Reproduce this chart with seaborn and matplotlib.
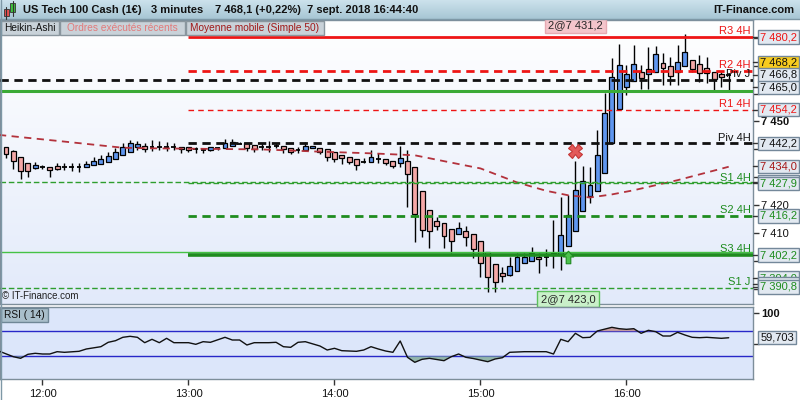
import numpy as np
import matplotlib
matplotlib.use("Agg")
import matplotlib.pyplot as plt
import matplotlib.transforms as mtransforms
from matplotlib.colors import LinearSegmentedColormap
from matplotlib.patches import Rectangle
import seaborn as sns

# Heikin-Ashi candles, 3 minutes each, the first one at 11:45
first_candle = "11:45"
candle_minutes = 3
ha_open = [7440.7, 7439.5, 7437.4, 7435.0, 7433.4, 7433.8, 7433.6, 7433.9, 7433.8, 7433.8,
           7433.8, 7433.6, 7434.3, 7434.9, 7435.6, 7436.6, 7437.9, 7439.2, 7440.7, 7441.1,
           7441.0, 7440.8, 7441.0, 7441.0, 7441.0, 7440.7, 7440.0, 7439.8, 7439.9, 7440.6,
           7440.4, 7441.1, 7442.0, 7442.2, 7441.6, 7441.0, 7441.0, 7441.3, 7441.2, 7440.6,
           7439.8, 7439.8, 7440.4, 7440.6, 7440.0, 7439.0, 7438.0, 7437.2, 7436.4, 7435.6,
           7435.6, 7436.6, 7436.6, 7435.7, 7435.0, 7435.9, 7433.6, 7425.1, 7418.3, 7414.4,
           7413.6, 7411.4, 7409.6, 7410.8, 7409.6, 7407.2, 7403.2, 7399.0, 7395.7, 7395.1,
           7396.6, 7399.2, 7400.2, 7401.6, 7401.6, 7402.2, 7402.2, 7405.5, 7410.9, 7418.1,
           7423.4, 7425.3, 7431.4, 7442.2, 7454.3, 7462.2, 7464.6, 7467.8, 7466.9, 7467.8,
           7470.8, 7469.9, 7467.8, 7469.8, 7472.0, 7470.4, 7469.0, 7467.8, 7466.9, 7466.6]
ha_high = [7441.0, 7439.8, 7437.4, 7435.0, 7435.6, 7434.4, 7433.8, 7435.0, 7435.0, 7435.0,
           7435.2, 7435.8, 7437.4, 7437.9, 7439.2, 7440.4, 7442.2, 7443.4, 7443.1, 7442.4,
           7443.2, 7442.9, 7442.5, 7442.2, 7441.0, 7440.7, 7440.7, 7440.4, 7441.0, 7441.0,
           7443.6, 7443.7, 7442.5, 7442.2, 7441.6, 7442.4, 7442.9, 7442.4, 7441.2, 7440.6,
           7440.7, 7442.5, 7441.2, 7440.6, 7440.0, 7439.0, 7438.0, 7437.2, 7436.4, 7436.8,
           7439.8, 7438.6, 7436.6, 7435.7, 7441.2, 7439.8, 7433.6, 7425.1, 7418.3, 7415.9,
           7413.6, 7411.4, 7413.9, 7412.6, 7409.6, 7407.2, 7403.2, 7399.0, 7398.0, 7401.6,
           7402.9, 7402.8, 7405.2, 7403.0, 7404.3, 7414.7, 7423.1, 7423.7, 7435.8, 7434.1,
           7433.8, 7446.9, 7460.1, 7472.6, 7477.7, 7470.2, 7477.3, 7470.2, 7476.7, 7477.0,
           7474.4, 7473.2, 7477.3, 7481.2, 7472.0, 7473.8, 7473.2, 7467.8, 7467.8, 7467.2]
ha_low = [7436.8, 7433.1, 7429.5, 7430.0, 7432.9, 7433.0, 7430.2, 7432.6, 7432.6, 7432.4,
          7432.0, 7433.6, 7434.3, 7434.9, 7435.6, 7436.6, 7437.9, 7439.2, 7439.8, 7439.2,
          7439.5, 7439.8, 7439.5, 7439.8, 7438.8, 7439.2, 7438.8, 7438.6, 7439.5, 7439.9,
          7440.4, 7441.1, 7441.8, 7439.5, 7439.0, 7439.8, 7439.0, 7440.6, 7438.8, 7438.2,
          7438.6, 7439.8, 7440.4, 7438.2, 7435.9, 7435.6, 7434.8, 7434.8, 7432.6, 7435.0,
          7435.6, 7435.0, 7434.4, 7433.2, 7433.6, 7419.5, 7407.0, 7408.8, 7404.8, 7411.2,
          7404.6, 7402.8, 7409.6, 7405.5, 7401.0, 7394.4, 7389.1, 7389.1, 7392.7, 7394.8,
          7396.6, 7399.2, 7400.2, 7395.9, 7398.4, 7397.5, 7396.8, 7405.5, 7410.9, 7418.1,
          7420.9, 7425.3, 7431.4, 7442.2, 7454.3, 7459.5, 7464.6, 7461.5, 7461.5, 7467.8,
          7463.0, 7463.0, 7463.0, 7469.8, 7467.7, 7464.2, 7463.6, 7461.2, 7462.4, 7461.2]
ha_close = [7438.2, 7435.7, 7432.2, 7432.2, 7434.3, 7433.9, 7432.5, 7433.1, 7433.9, 7433.9,
            7433.9, 7434.7, 7435.8, 7436.6, 7437.6, 7439.1, 7440.7, 7442.2, 7441.8, 7440.2,
            7441.0, 7440.9, 7441.0, 7441.0, 7440.0, 7439.8, 7440.0, 7439.8, 7440.7, 7440.6,
            7442.4, 7442.5, 7442.0, 7440.6, 7440.0, 7441.0, 7441.0, 7441.3, 7440.0, 7439.0,
            7439.8, 7441.2, 7441.2, 7439.0, 7437.4, 7436.6, 7436.8, 7435.6, 7434.4, 7435.6,
            7437.2, 7436.6, 7435.2, 7434.2, 7436.8, 7431.1, 7416.8, 7411.0, 7410.8, 7412.7,
            7409.1, 7407.3, 7411.8, 7408.8, 7404.3, 7399.2, 7394.4, 7392.4, 7394.8, 7398.3,
            7401.6, 7401.6, 7402.8, 7400.9, 7401.6, 7402.8, 7409.4, 7416.5, 7425.5, 7428.6,
            7427.3, 7438.0, 7452.9, 7466.0, 7470.2, 7466.9, 7470.5, 7465.4, 7468.6, 7474.0,
            7469.2, 7466.4, 7471.2, 7474.7, 7468.6, 7467.4, 7467.2, 7465.1, 7466.0, 7466.6]

# Moyenne mobile (Simple 50), read at some candles
ma_idx = [-1, 8, 16, 20, 35, 43, 50, 56, 60, 65, 70, 74, 77, 80, 83, 86, 92, 99]
ma_val = [7445.2, 7442.8, 7440.6, 7440.4, 7440.0, 7439.2, 7438.6, 7437.9, 7435.8, 7433.2,
          7428.2, 7425.2, 7423.6, 7422.8, 7423.9, 7425.4, 7429.0, 7433.8]

# RSI (14)
rsi_idx = [-1, 1, 2, 3, 4, 5, 6, 7, 8, 10, 11, 13, 14, 15, 16, 17, 18, 19, 20, 21,
           22, 23, 25, 26, 27, 28, 30, 31, 32, 33, 34, 36, 37, 38, 39, 40, 41, 43, 44, 45,
           46, 48, 49, 50, 51, 52, 53, 54, 55, 56, 57, 58, 60, 61, 62, 63, 64, 66, 67, 68,
           69, 71, 74, 75, 76, 77, 78, 79, 80, 81, 83, 84, 85, 86, 87, 88, 89, 90, 91, 92,
           93, 94, 95, 96, 98, 99]
rsi_val = [38.5, 29.4, 26.8, 33.2, 34.8, 33.7, 33.7, 37.4, 36.4, 38.0, 41.7, 45.4, 52.4, 55.0,
           60.4, 62.0, 60.4, 51.8, 57.2, 51.8, 58.8, 51.8, 51.8, 49.2, 53.4, 52.4, 60.4, 56.1,
           56.1, 48.1, 51.8, 51.8, 52.4, 45.4, 44.4, 52.4, 53.4, 46.5, 40.1, 42.8, 39.0, 38.0,
           40.1, 45.4, 41.7, 38.5, 36.4, 54.5, 28.4, 20.4, 25.2, 26.8, 23.0, 29.4, 33.7, 28.4,
           26.5, 21.4, 25.7, 27.8, 36.4, 37.4, 37.4, 33.7, 57.2, 53.4, 66.8, 59.8, 60.4, 70.5,
           76.4, 74.2, 73.2, 74.2, 66.8, 71.6, 69.4, 62.5, 62.5, 68.4, 64.1, 60.4, 59.8, 60.4,
           58.8, 59.7]
rsi_last = 59.703
rsi_bands = [30, 70]

# pivot levels ("4H" ones start at 13:00)
level_names = ["R3 4H", "R2 4H", "Piv J", "", "R1 4H", "Piv 4H", "", "S1 4H", "S2 4H", "", "S3 4H", "S1 J"]
level_prices = [7480.2, 7468.2, 7465.0, 7461.0, 7454.2, 7442.2, 7428.4, 7427.9, 7416.2, 7403.3, 7402.2, 7390.6]
level_from = ["13:00", "13:00", None, None, "13:00", "13:00", None, "13:00", "13:00", None, "13:00", None]

# price tags on the right scale (the "under" ones are mostly covered by their neighbours)
tag_prices = [7480.2, 7468.2, 7466.8, 7465.0, 7454.2, 7442.2, 7434.0, 7428.4, 7427.9, 7416.2,
              7402.2, 7394.0, 7391.8, 7390.8]
tag_kind = ["R", "last", "piv", "piv", "R", "piv", "ma", "S", "S", "S", "S", "S", "S", "S"]
tag_under = [False, False, False, False, False, False, False, True, False, False,
             False, True, True, False]

# executed orders
order_text = ["2@7 431,2", "2@7 423,0"]
order_time = ["15:39", "15:36"]
order_side = ["sell", "buy"]
order_mark = [7439.3, 7401.5]

time_labels = ["12:00", "13:00", "14:00", "15:00", "16:00"]
price_ticks = list(range(7390, 7481, 10))
rsi_ticks = [50, 100]

title_parts = ["US Tech 100 Cash (1€)", "3 minutes", "7 468,1 (+0,22%)", "7 sept. 2018 16:44:40"]
tabs = ["Heikin-Ashi", "Ordres exécutés récents", "Moyenne mobile (Simple 50)"]


def to_index(hhmm):
    h, m = map(int, hhmm.split(":"))
    h0, m0 = map(int, first_candle.split(":"))
    return ((h * 60 + m) - (h0 * 60 + m0)) / candle_minutes


def fr(v, nd=1):
    s = f"{v:.{nd}f}"
    ip, dp = s.split(".")
    if len(ip) > 3:
        ip = ip[:-3] + " " + ip[-3:]
    return ip + "," + dp


def spread(vals, gap):
    # stack overlapping tags around the mean of their targets
    groups = [[v] for v in vals]

    def top(g):
        return np.mean(g) + (len(g) - 1) / 2 * gap
    merged = True
    while merged:
        merged = False
        new = [groups[0]]
        for g in groups[1:]:
            prev = new[-1]
            if top(prev) - (len(prev) - 1) * gap - top(g) < gap:
                new[-1] = prev + g
                merged = True
            else:
                new.append(g)
        groups = new
    out = []
    for g in groups:
        out += [top(g) - k * gap for k in range(len(g))]
    return out


sns.set_theme(style="white")
plt.rcParams["font.family"] = ["Liberation Sans", "DejaVu Sans"]

W, H = 800, 400


def box(x0, y0, x1, y1):
    return [x0 / W, 1 - y1 / H, (x1 - x0) / W, (y1 - y0) / H]


fig = plt.figure(figsize=(8, 4), dpi=100, facecolor="white")
ax = fig.add_axes(box(0, 20, 753, 304))
ax_rsi = fig.add_axes(box(0, 307, 753, 379))

px0, step = 6, 7.3
xlim = (-px0 / step, (753 - px0) / step)
ylim = (7384.7, 7486.3)
rsi_lim = (-6.3, 108.9)
unit_px = 284 / (ylim[1] - ylim[0])

# background gradients
bg = LinearSegmentedColormap.from_list("bg", ["#FFFFFF", "#E2EAFA"])
ax.imshow(np.linspace(0, 1, 256).reshape(-1, 1), cmap=bg, aspect="auto",
          extent=[xlim[0], xlim[1], ylim[0], ylim[1]], origin="upper", zorder=0)
ax_rsi.set_facecolor("#DCE6FA")

# candles
o = np.array(ha_open)
c = np.array(ha_close)
hi = np.array(ha_high)
lo = np.array(ha_low)
idx = np.arange(len(o))
ax.vlines(idx, lo, hi, color="black", lw=1, zorder=3)
up = c > o + 0.3
dn = c < o - 0.3
flat = ~(up | dn)
ax.bar(idx[up], (c - o)[up], bottom=o[up], width=0.68, color="#5F96EF",
       edgecolor="black", linewidth=0.9, zorder=4)
ax.bar(idx[dn], (o - c)[dn], bottom=c[dn], width=0.68, color="#F5A8A7",
       edgecolor="black", linewidth=0.9, zorder=4)
ax.hlines((o + c)[flat] / 2, idx[flat] - 0.34, idx[flat] + 0.34, color="black", lw=1.3, zorder=4)

# moving average
sns.lineplot(x=ma_idx, y=ma_val, ax=ax, color="#B3323C", lw=1.3, linestyle=(0, (4, 3)), zorder=5)

# pivot levels
red, black, green = "#EE1515", "#111111", "#1E8C1E"
level_styles = [(red, "-", 2.0), (red, (0, (3, 2)), 2.0), (black, (0, (3, 2)), 2.0),
                ("#3BAA36", "-", 2.2), (red, (0, (4, 3)), 1.0), (black, (0, (3, 2)), 2.0),
                ("#2E9E2E", (0, (4, 2)), 1.0), ("#2E9E2E", (0, (4, 2)), 1.0),
                (green, (0, (3, 2)), 2.0), ("#45C245", "-", 1.0), (green, "-", 2.6),
                ("#2E9E2E", (0, (4, 2)), 1.0)]
ytrans = mtransforms.blended_transform_factory(ax.transAxes, ax.transData)
for name, price, start, (col, ls, lw) in zip(level_names, level_prices, level_from, level_styles):
    x_start = to_index(start) if start else xlim[0]
    ax.plot([x_start, xlim[1]], [price, price], color=col, ls=ls, lw=lw, zorder=5,
            solid_capstyle="butt")
    if name:
        tcol = red if name.startswith("R") else (black if name.startswith("Piv") else green)
        ax.annotate(name, xy=(0.997, price), xycoords=ytrans, xytext=(0, 0.5),
                    textcoords="offset points", ha="right", va="bottom",
                    fontsize=8, color=tcol, zorder=6)

# executed orders
xtrans = mtransforms.blended_transform_factory(ax.transData, ax.transAxes)
for text, t, side, mark in zip(order_text, order_time, order_side, order_mark):
    xi = to_index(t)
    if side == "sell":
        ax.plot(xi, mark, marker="X", ms=10, mfc="#E35A5A", mec="#C43636", mew=0.8, zorder=7)
        ax.text(xi, 1.0, text, transform=xtrans, ha="center", va="top", fontsize=8, zorder=7,
                bbox=dict(boxstyle="square,pad=0.3", fc="#F4C5CB", ec="#E6AAB2", lw=1))
    else:
        arrow = [(-0.5, 0.05), (0, 0.6), (0.5, 0.05), (0.22, 0.05), (0.22, -0.6),
                 (-0.22, -0.6), (-0.22, 0.05), (-0.5, 0.05)]
        ax.plot(xi, mark, marker=arrow, ms=9, mfc="#4CC24C", mec="#1F8A1F", mew=0.8, zorder=7)
        ax.text(xi, 0.0, text, transform=xtrans, ha="center", va="bottom", fontsize=8, zorder=7,
                bbox=dict(boxstyle="square,pad=0.3", fc="#C9F0C9", ec="#5DC05D", lw=1))

ax.text(0.003, 0.012, "© IT-Finance.com", transform=ax.transAxes, fontsize=7,
        color="#222222", va="bottom", ha="left", zorder=7)

# price tags: visible ones are spread apart, covered ones sit at their own price
gap = 12.5 / unit_px
vis = [p for p, u in zip(tag_prices, tag_under) if not u]
vis_y = iter(spread(vis, gap))
tag_y = [p if u else next(vis_y) for p, u in zip(tag_prices, tag_under)]
kind_style = {"R": (red, "#E2E9F1"), "last": ("#111111", "#F7CB1E"), "piv": ("#111111", "#E2E9F1"),
              "ma": ("#A51515", "#E2E9F1"), "S": (green, "#E2E9F1")}
for k, (p, yk, kind, u) in enumerate(zip(tag_prices, tag_y, tag_kind, tag_under)):
    tcol, fc = kind_style[kind]
    z = 8 if u else 10 + k
    ax.plot([1.0, 1.008], [yk, yk], transform=ytrans, color="#333333", lw=1, clip_on=False, zorder=z)
    ax.text(1.0095, yk, fr(p), transform=ytrans, ha="left", va="center", fontsize=8, color=tcol,
            clip_on=False, zorder=z,
            bbox=dict(boxstyle="square,pad=0.15", fc=fc, ec="#74889A", lw=1))

# scale labels that sit under a tag are not readable, leave them out
half_box = 8 / unit_px
ax.set_xlim(*xlim)
ax.set_ylim(*ylim)
ax.set_xticks([])
ax.yaxis.tick_right()
ax.set_yticks(price_ticks)
ax.set_yticklabels([fr(t, 1)[:-2] if min(abs(t - y) for y in tag_y) > half_box else ""
                    for t in price_ticks])
for t, lab in zip(price_ticks, ax.get_yticklabels()):
    if t % 50 == 0:
        lab.set_fontweight("bold")
        lab.set_fontsize(9)
ax.tick_params(axis="y", length=4, width=1, color="#333333", pad=2, labelsize=8,
               labelcolor="#111111", right=True)
for sp in ax.spines.values():
    sp.set_color("#7D8E9A")
    sp.set_linewidth(1)

# RSI panel
rx = np.array(rsi_idx)
ry = np.array(rsi_val)
for b in rsi_bands:
    ax_rsi.axhline(b, color="#2828C8", lw=1, zorder=2)
ax_rsi.fill_between(rx, ry, rsi_bands[1], where=ry >= rsi_bands[1], interpolate=True,
                    color="#C49393", alpha=0.85, zorder=2, lw=0)
ax_rsi.fill_between(rx, ry, rsi_bands[0], where=ry <= rsi_bands[0], interpolate=True,
                    color="#86AE9E", alpha=0.85, zorder=2, lw=0)
sns.lineplot(x=rx, y=ry, ax=ax_rsi, color="#111111", lw=1, zorder=3)
ax_rsi.set_xlim(*xlim)
ax_rsi.set_ylim(*rsi_lim)
ax_rsi.set_xlabel("")
ax_rsi.set_ylabel("")
ax_rsi.set_xticks([to_index(t) for t in time_labels])
ax_rsi.set_xticklabels(time_labels)
ax_rsi.tick_params(axis="x", length=4, width=1, color="#333333", pad=3, labelsize=8,
                   labelcolor="#111111", bottom=True)
rsi_half = 8 * (rsi_lim[1] - rsi_lim[0]) / 72
ax_rsi.yaxis.tick_right()
ax_rsi.set_yticks(rsi_ticks)
ax_rsi.set_yticklabels([str(t) if abs(t - rsi_last) > rsi_half else "" for t in rsi_ticks])
for t, lab in zip(rsi_ticks, ax_rsi.get_yticklabels()):
    if t == 100:
        lab.set_fontweight("bold")
        lab.set_fontsize(9)
ax_rsi.tick_params(axis="y", length=4, width=1, color="#333333", pad=2, labelsize=8,
                   labelcolor="#111111", right=True)
rtrans = mtransforms.blended_transform_factory(ax_rsi.transAxes, ax_rsi.transData)
ax_rsi.text(1.0095, rsi_last, fr(rsi_last, 3).replace(" ", ""), transform=rtrans, ha="left",
            va="center", fontsize=8, color="#111111", clip_on=False, zorder=8,
            bbox=dict(boxstyle="square,pad=0.15", fc="#E2E9F1", ec="#74889A", lw=1))
for sp in ax_rsi.spines.values():
    sp.set_color("#7D8E9A")
    sp.set_linewidth(1)

# header, tabs and other chrome in pixel coordinates
deco = fig.add_axes(box(0, 0, 800, 400), zorder=20)
deco.patch.set_visible(False)
deco.axis("off")
hdr = LinearSegmentedColormap.from_list("hdr", ["#CCE2EC", "#A7C6D4"])
deco.imshow(np.linspace(0, 1, 64).reshape(-1, 1), cmap=hdr, aspect="auto",
            extent=[0, 800, 19, 0], zorder=0)
deco.plot([0, 800], [19, 19], color="#7E98A6", lw=1)
deco.plot([0.5, 0.5], [0, 400], color="#7E98A6", lw=1)
# little candlestick icon
deco.plot([6, 6], [7, 19], color="#333333", lw=0.8)
deco.add_patch(Rectangle((4, 9), 4.5, 7, fc="#E45050", ec="#333333", lw=0.6))
deco.plot([12.5, 12.5], [1, 16], color="#333333", lw=0.8)
deco.add_patch(Rectangle((10, 3), 5, 9, fc="#3DC03D", ec="#333333", lw=0.6))
for part, x in zip(title_parts, [23, 151, 215, 307]):
    deco.text(x, 10, part, fontsize=8, fontweight="bold", color="#111111", va="center", ha="left")
deco.text(794, 10, "IT-Finance.com", fontsize=8, fontweight="bold", color="#111111",
          va="center", ha="right")

tab_colors = ["#111111", "#E27A7A", "#A01818"]
tab_edges = [0.5, 60, 186, 325]
for k, (label, col) in enumerate(zip(tabs, tab_colors)):
    x0, x1 = tab_edges[k], tab_edges[k + 1] - 1
    deco.add_patch(Rectangle((x0, 20.5), x1 - x0, 14, fc="#C9D2D9", ec="#8A969E", lw=1))
    deco.text((x0 + x1) / 2, 27.8, label, fontsize=7.3, color=col, ha="center", va="center")

deco.add_patch(Rectangle((0.5, 307.5), 47, 14, fc="#A9BECA", ec="#6F8796", lw=1))
deco.text(24, 314.5, "RSI ( 14)", fontsize=7.3, color="#111111", ha="center", va="center")

deco.set_xlim(0, W)
deco.set_ylim(H, 0)

fig.savefig("out.png", dpi=100, facecolor="white")
